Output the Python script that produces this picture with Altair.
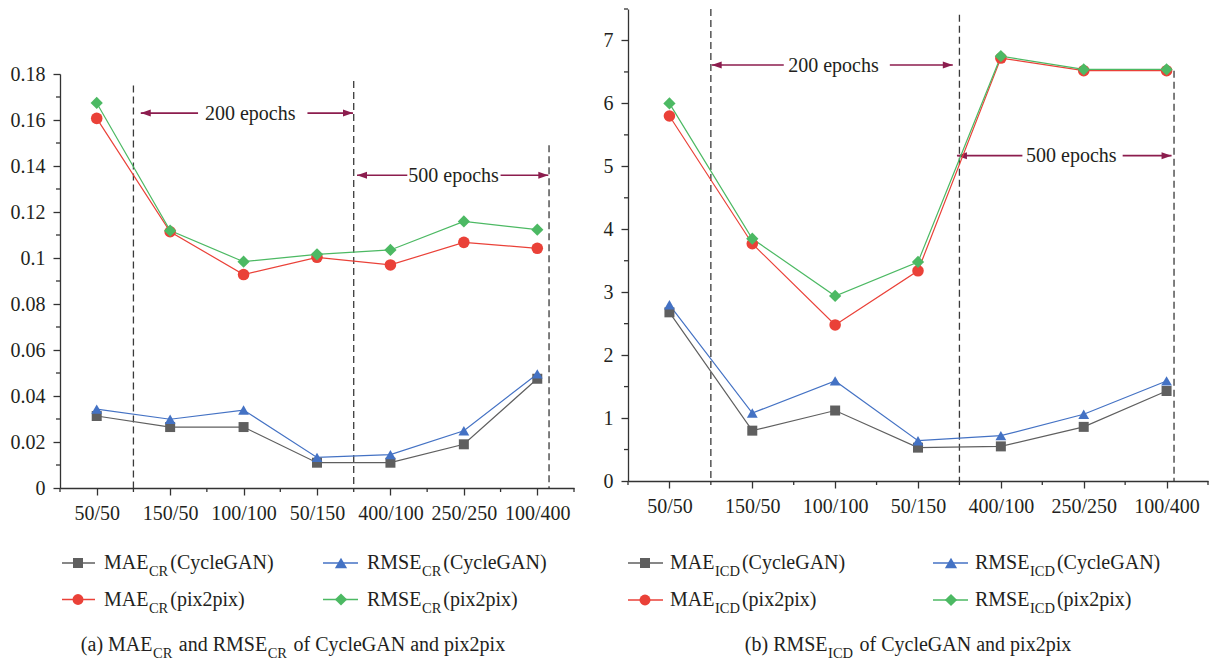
import altair as alt
import pandas as pd

categories = ["50/50", "150/50", "100/100", "50/150", "400/100", "250/250", "100/400"]

# (a) CR values
mae_cr_cyclegan = [0.0313, 0.0265, 0.0265, 0.0110, 0.0110, 0.0190, 0.0475]
rmse_cr_cyclegan = [0.0343, 0.0299, 0.0339, 0.0133, 0.0145, 0.0249, 0.0496]
mae_cr_pix2pix = [0.1607, 0.1114, 0.0928, 0.1003, 0.0970, 0.1068, 0.1042]
rmse_cr_pix2pix = [0.1674, 0.1119, 0.0984, 0.1016, 0.1035, 0.1159, 0.1123]

# (b) ICD values
mae_icd_cyclegan = [2.68, 0.80, 1.12, 0.53, 0.55, 0.86, 1.43]
rmse_icd_cyclegan = [2.80, 1.08, 1.59, 0.64, 0.72, 1.06, 1.59]
mae_icd_pix2pix = [5.80, 3.77, 2.48, 3.34, 6.72, 6.52, 6.52]
rmse_icd_pix2pix = [6.00, 3.85, 2.94, 3.48, 6.75, 6.54, 6.54]

y_ticks_cr = [0, 0.02, 0.04, 0.06, 0.08, 0.1, 0.12, 0.14, 0.16, 0.18]
y_minor_cr = [0.01, 0.03, 0.05, 0.07, 0.09, 0.11, 0.13, 0.15, 0.17]
y_ticks_icd = [0, 1, 2, 3, 4, 5, 6, 7]
y_minor_icd = [0.5, 1.5, 2.5, 3.5, 4.5, 5.5, 6.5, 7.5]
x_minor = [-0.5, 0.5, 1.5, 2.5, 3.5, 4.5, 5.5, 6.5]

# dashed separators (x in category index units, top value)
dash_cr_x = [0.5, 3.5, 6.16]
dash_cr_top = [0.175, 0.177, 0.149]
dash_icd_x = [0.5, 3.5, 6.09]
dash_icd_top = [7.5, 7.41, 6.52]

# epoch annotations: label, centre x, y, left tip, left seg end, right seg start, right tip
epochs_cr = [("200 epochs", 2.09, 0.163, 0.60, 1.38, 2.87, 3.49),
             ("500 epochs", 4.86, 0.136, 3.545, 4.23, 5.50, 6.15)]
epochs_icd = [("200 epochs", 1.98, 6.61, 0.51, 1.38, 2.66, 3.42),
              ("500 epochs", 4.85, 5.17, 3.47, 4.26, 5.47, 6.06)]

series_keys = ["mae_cg", "rmse_cg", "mae_p", "rmse_p"]
colors = ["#5F5F5F", "#4472C4", "#EA4138", "#4CB963"]
shapes = ["square", "triangle-up", "circle", "diamond"]
sizes = [100, 150, 120, 150]
legend_main = ["MAE", "RMSE", "MAE", "RMSE"]
legend_rest = ["(CycleGAN)", "(CycleGAN)", "(pix2pix)", "(pix2pix)"]

FONT = "Liberation Serif"
TXT = "#231F20"
AX = "#333333"
MAROON = "#8C1D4E"
FS = 20
FS_SUB = 14.5

W_EM = {"M": .889, "A": .722, "E": .611, "R": .667, "S": .556, "C": .667, "I": .333,
        "D": .722, "(": .333, ")": .333, "y": .5, "c": .444, "l": .278, "e": .444,
        "G": .722, "N": .722, "p": .5, "i": .278, "x": .5, "2": .5, " ": .25,
        "a": .444, "n": .5, "d": .5, "o": .5, "f": .333, "b": .5}


def tw(s, fs):
    return sum(W_EM.get(ch, 0.5) for ch in s) * fs


ONE = pd.DataFrame({"k": [0]})


def txt(x, y, s, fs, color=TXT):
    return alt.Chart(ONE).mark_text(align="left", baseline="alphabetic", font=FONT,
                                    fontSize=fs, color=color).encode(
        x=alt.value(x), y=alt.value(y), text=alt.value(s))


def panel(vals, W, H, ytop, ymax, yticks, yminor, dash_x, dash_top, epochs, sub,
          legend_cols, legend_rows, caption, cap_center, cap_base):
    rows = []
    for key, v in zip(series_keys, vals):
        for i, val in enumerate(v):
            rows.append({"idx": i, "value": val, "series": key})
    df = pd.DataFrame(rows)

    label_arr = "[" + ",".join("'%s'" % c for c in categories) + "]"
    xscale = alt.Scale(domain=[-0.5, 6.5], nice=False, zero=False)
    xaxis = alt.Axis(values=list(range(7)), labelExpr=label_arr + "[datum.value]",
                     title=None, grid=False, tickSize=7, tickColor=AX, tickWidth=1.3,
                     domainColor=AX, domainWidth=1.3, labelFont=FONT, labelFontSize=FS,
                     labelColor=TXT, labelPadding=8, labelOverlap=False, labelFlush=False,
                     labelBound=False)
    yscale = alt.Scale(domain=[0, ymax], nice=False, zero=True, range=[H, ytop])
    yaxis = alt.Axis(values=yticks, labelExpr="format(datum.value, '.2~f')", title=None,
                     grid=False, tickSize=7, tickColor=AX, tickWidth=1.3, domainColor=AX,
                     domainWidth=1.3, labelFont=FONT, labelFontSize=FS, labelColor=TXT,
                     labelPadding=8, labelOverlap=False, labelFlush=False)

    def X(f):
        return alt.X(f + ":Q", scale=xscale, axis=xaxis)

    def Y(f):
        return alt.Y(f + ":Q", scale=yscale, axis=yaxis)

    color = alt.Color("series:N", scale=alt.Scale(domain=series_keys, range=colors), legend=None)
    shape = alt.Shape("series:N", scale=alt.Scale(domain=series_keys, range=shapes), legend=None)
    size = alt.Size("series:N", scale=alt.Scale(domain=series_keys, range=sizes), legend=None)

    layers = []
    # minor ticks
    layers.append(alt.Chart(pd.DataFrame({"idx": x_minor})).mark_rule(
        color=AX, strokeWidth=1.3).encode(x=X("idx"), y=alt.value(H), y2=alt.value(H + 4)))
    layers.append(alt.Chart(pd.DataFrame({"value": yminor})).mark_rule(
        color=AX, strokeWidth=1.3).encode(y=Y("value"), x=alt.value(-4), x2=alt.value(0)))

    # dashed separators
    ddf = pd.DataFrame({"idx": dash_x, "value": dash_top, "bot": [0] * len(dash_x)})
    layers.append(alt.Chart(ddf).mark_rule(color="#3A3A3A", strokeWidth=1.3,
                                           strokeDash=[7, 4]).encode(
        x=X("idx"), y=Y("value"), y2=alt.Y2("bot:Q")))

    # epoch arrows
    seg_rows, head_l, head_r, lab_rows = [], [], [], []
    for lab, cx, yy, lt, le, rs, rt in epochs:
        seg_rows.append({"idx": lt, "idx2": le, "value": yy})
        seg_rows.append({"idx": rs, "idx2": rt, "value": yy})
        head_l.append({"idx": lt, "value": yy})
        head_r.append({"idx": rt, "value": yy})
        lab_rows.append({"idx": cx, "value": yy, "label": lab})
    layers.append(alt.Chart(pd.DataFrame(seg_rows)).mark_rule(
        color=MAROON, strokeWidth=1.6).encode(x=X("idx"), x2=alt.X2("idx2:Q"), y=Y("value")))
    layers.append(alt.Chart(pd.DataFrame(head_l)).mark_point(
        shape="M0,0L2,-0.7L2,0.7Z", filled=True, size=100, color=MAROON, opacity=1).encode(
        x=X("idx"), y=Y("value")))
    layers.append(alt.Chart(pd.DataFrame(head_r)).mark_point(
        shape="M0,0L-2,-0.7L-2,0.7Z", filled=True, size=100, color=MAROON, opacity=1).encode(
        x=X("idx"), y=Y("value")))
    layers.append(alt.Chart(pd.DataFrame(lab_rows)).mark_text(
        font=FONT, fontSize=FS, color=TXT, align="center", baseline="alphabetic", dy=6.5).encode(
        x=X("idx"), y=Y("value"), text="label:N"))

    # data lines and markers
    layers.append(alt.Chart(df).mark_line(strokeWidth=1.2).encode(
        x=X("idx"), y=Y("value"), color=color, detail="series:N"))
    layers.append(alt.Chart(df).mark_point(filled=True, opacity=1, strokeWidth=0).encode(
        x=X("idx"), y=Y("value"), color=color, shape=shape, size=size))

    # legend
    for k in range(4):
        col = legend_cols[k % 2]
        ry, rb = legend_rows[k // 2]
        lx1, lx2, mx, tx = col
        layers.append(alt.Chart(ONE).mark_rule(color=colors[k], strokeWidth=1.3).encode(
            x=alt.value(lx1), x2=alt.value(lx2), y=alt.value(ry)))
        layers.append(alt.Chart(ONE).mark_point(shape=shapes[k], filled=True, opacity=1,
                                                 size=sizes[k], color=colors[k],
                                                 strokeWidth=0).encode(
            x=alt.value(mx), y=alt.value(ry)))
        main = legend_main[k]
        layers.append(txt(tx, rb, main, FS))
        sx = tx + tw(main, FS) + 0.5
        layers.append(txt(sx, rb + 7, sub, FS_SUB))
        layers.append(txt(sx + tw(sub, FS_SUB) + 2, rb, legend_rest[k], FS))

    # caption
    total = 0
    pieces = []
    for s, is_sub in caption:
        if is_sub:
            x0 = total + 0.5
            total = x0 + tw(s, FS_SUB)
        else:
            x0 = total + (tw(" ", FS) + 1.5 if pieces else 0)
            total = x0 + tw(s, FS)
        pieces.append((x0, s, is_sub))
    start = cap_center - total / 2
    for x0, s, is_sub in pieces:
        if is_sub:
            layers.append(txt(start + x0, cap_base + 7, s, FS_SUB))
        else:
            layers.append(txt(start + x0, cap_base, s, FS))

    return alt.layer(*layers).properties(width=W, height=H)


left = panel(
    [mae_cr_cyclegan, rmse_cr_cyclegan, mae_cr_pix2pix, rmse_cr_pix2pix],
    514, 479, 65, 0.18, y_ticks_cr, y_minor_cr, dash_cr_x, dash_cr_top, epochs_cr, "CR",
    legend_cols=[(2, 35, 18, 44), (263, 298, 281, 307)],
    legend_rows=[(554, 560), (590.5, 596.5)],
    caption=[("(a) MAE", False), ("CR", True), ("and RMSE", False), ("CR", True),
             ("of CycleGAN and pix2pix", False)],
    cap_center=233, cap_base=642)

right = panel(
    [mae_icd_cyclegan, rmse_icd_cyclegan, mae_icd_pix2pix, rmse_icd_pix2pix],
    580, 472, 0, 7.5, y_ticks_icd, y_minor_icd, dash_icd_x, dash_icd_top, epochs_icd, "ICD",
    legend_cols=[(0, 35, 17, 42), (305, 340, 323, 347)],
    legend_rows=[(554, 560), (591, 597)],
    caption=[("(b) RMSE", False), ("ICD", True), ("of CycleGAN and pix2pix", False)],
    cap_center=280, cap_base=642)

chart = alt.hconcat(left, right, spacing=28).properties(
    padding={"left": 2, "top": 0, "right": 0, "bottom": 0}
).configure_view(stroke=None)

chart.save("out.html", embed_options={"renderer": "svg", "actions": False})
